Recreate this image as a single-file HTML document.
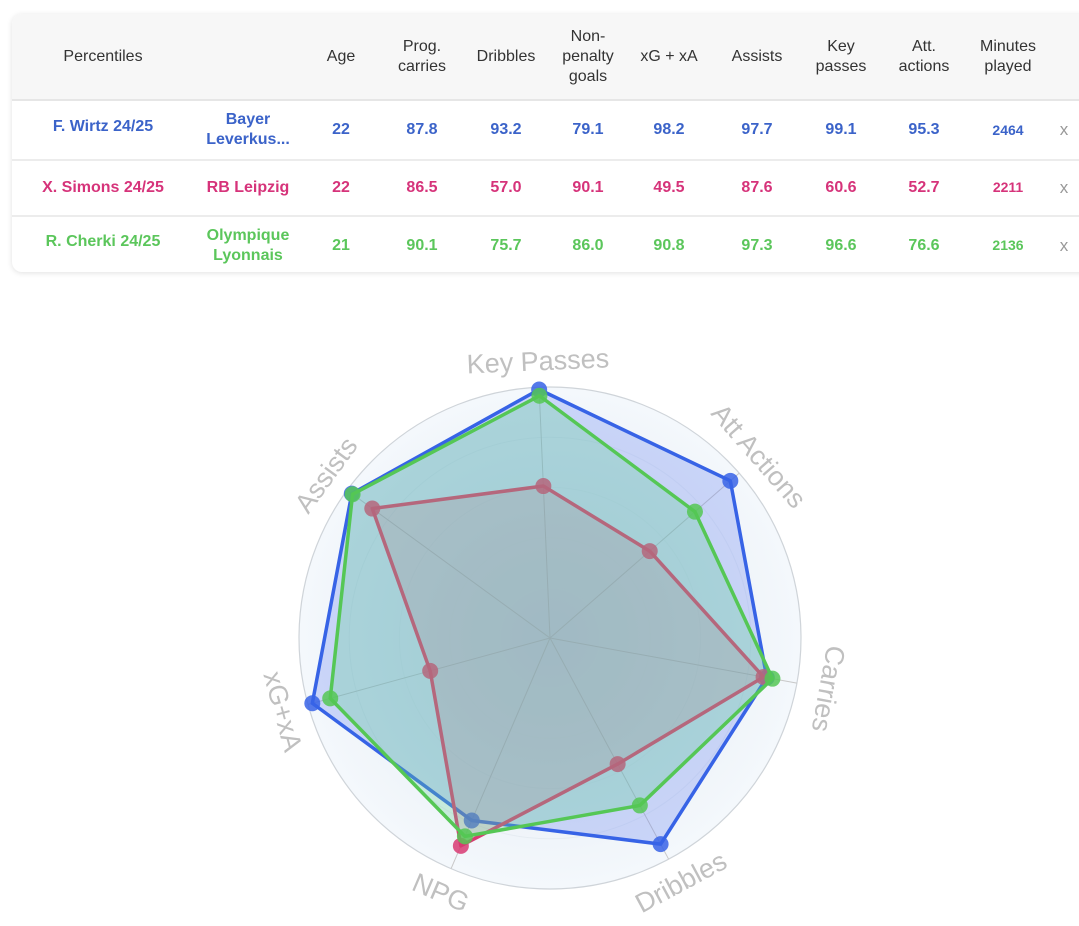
<!DOCTYPE html>
<html><head><meta charset="utf-8"><style>
body{margin:0;width:1079px;height:926px;background:#fff;font-family:"Liberation Sans",sans-serif;overflow:hidden;position:relative}
.card{position:absolute;left:12px;top:14px;width:1090px;height:258px;border-radius:10px;background:#fff;box-shadow:0 1px 6px rgba(0,0,0,0.12);overflow:hidden}
table{border-collapse:collapse;position:absolute;left:0;top:0}
th{background:#f7f7f7;font-weight:normal;color:#333;font-size:16px;height:84px;line-height:20px;border-bottom:2px solid #e6e6e6;padding:0}
td{text-align:center;font-weight:bold;font-size:16px;padding:0;border-bottom:2px solid #ececec;line-height:20px}
tr.r3 td{border-bottom:none}
.b td{color:#3b63c9}.p td{color:#d6337a}.g td{color:#5bc65b}
td.x{color:#999;font-weight:normal;font-size:17px}
td.m{font-size:14px}
</style></head><body>
<div class="card">
<table>
<colgroup><col style="width:182px"><col style="width:108px"><col style="width:78px"><col style="width:84px"><col style="width:84px"><col style="width:80px"><col style="width:82px"><col style="width:94px"><col style="width:74px"><col style="width:92px"><col style="width:76px"><col style="width:36px"></colgroup>
<tr style="height:86px">
<th>Percentiles</th><th></th><th>Age</th><th>Prog.<br>carries</th><th>Dribbles</th><th>Non-<br>penalty<br>goals</th><th>xG + xA</th><th>Assists</th><th>Key<br>passes</th><th>Att.<br>actions</th><th>Minutes<br>played</th><th></th></tr>
<tr class="b" style="height:60px"><td style="padding-bottom:6px">F. Wirtz 24/25</td><td>Bayer<br>Leverkus...</td><td>22</td><td>87.8</td><td>93.2</td><td>79.1</td><td>98.2</td><td>97.7</td><td>99.1</td><td>95.3</td><td class="m">2464</td><td class="x">x</td></tr>
<tr class="p" style="height:56px"><td>X. Simons 24/25</td><td>RB Leipzig</td><td>22</td><td>86.5</td><td>57.0</td><td>90.1</td><td>49.5</td><td>87.6</td><td>60.6</td><td>52.7</td><td class="m" style="padding-bottom:2px">2211</td><td class="x">x</td></tr>
<tr class="g r3" style="height:58px"><td style="padding-bottom:8px">R. Cherki 24/25</td><td>Olympique<br>Lyonnais</td><td>21</td><td>90.1</td><td>75.7</td><td>86.0</td><td>90.8</td><td>97.3</td><td>96.6</td><td>76.6</td><td class="m" style="padding-bottom:2px">2136</td><td class="x">x</td></tr>
</table></div>
<svg id="radar" width="1079" height="926" style="position:absolute;left:0;top:0">
<defs><radialGradient id="bg"><stop offset="0" stop-color="#dfe7ef"/><stop offset="1" stop-color="#f4f8fc"/></radialGradient></defs>
</svg>
<script>
const axes=["Key Passes","Att Actions","Carries","Dribbles","NPG","xG+xA","Assists"];
const wirtz=[99.1,95.3,87.8,93.2,79.1,98.2,97.7];
const simons=[60.6,52.7,86.5,57.0,90.1,49.5,87.6];
const cherki=[96.6,76.6,90.1,75.7,86.0,90.8,97.3];
const gridLevels=[20,40,60,80,100];
const svg=document.getElementById('radar');
const NS='http://www.w3.org/2000/svg';
const cx=550,cy=638,R=251,rot=-2.5;
function ang(i){return (i*360/axes.length+rot)*Math.PI/180;}
function pt(i,v){const a=ang(i),r=R*v/100;return [cx+r*Math.sin(a),cy-r*Math.cos(a)];}
function mk(t,attrs){const e=document.createElementNS(NS,t);for(const k in attrs)e.setAttribute(k,attrs[k]);svg.appendChild(e);return e;}
let c=mk('circle',{cx:cx,cy:cy,r:R,fill:'url(#bg)',stroke:'#cfd4d9','stroke-width':1.2});


gridLevels.slice(0,-1).forEach(l=>{const g=mk('circle',{cx:cx,cy:cy,r:R*l/100,fill:'none',stroke:'#e6ecf2','stroke-width':1});

});
axes.forEach((n,i)=>{const p=pt(i,100);const l=mk('line',{x1:cx,y1:cy,x2:p[0],y2:p[1],stroke:'#c8c8c8','stroke-width':1});


const deg=i*360/axes.length+rot;const a=ang(i);
let rt=deg;let r=R+24;if(deg>135&&deg<=270){rt=deg-180;r=R+28;}else if(deg>270)rt=deg-360;
if(deg>80&&deg<135)r=R+30;
const tx=cx+r*Math.sin(a),ty=cy-r*Math.cos(a);
const t=mk('text',{x:tx,y:ty,'text-anchor':'middle','dominant-baseline':'middle','font-size':27,fill:'#c0c0c0',transform:`rotate(${rt} ${tx} ${ty})`});
t.textContent=n;

});
function series(vals,stroke,fill,name){const ps=vals.map((v,i)=>pt(i,v));
const pg=mk('polygon',{points:ps.map(p=>p.join(',')).join(' '),fill:fill,stroke:stroke,'stroke-width':3.5,'stroke-linejoin':'round'});


ps.forEach(p=>{const d=mk('circle',{cx:p[0],cy:p[1],r:8,fill:stroke,'fill-opacity':0.85});

});}
series(wirtz,'#3763e6','rgba(80,110,240,0.25)','wirtz');
series(simons,'#d83a72','rgba(190,80,120,0.2)','simons');
series(cherki,'#55c755','rgba(100,210,150,0.3)','cherki');
</script>
</body></html>
